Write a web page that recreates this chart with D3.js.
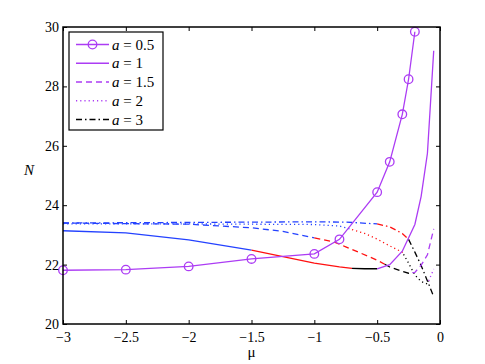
<!DOCTYPE html>
<html lang="en">
<head>
    <meta charset="UTF-8">
    <title>N vs mu</title>
    <script src="https://d3js.org/d3.v7.min.js"></script>
    <style>
        body { margin: 0; background: #fff; }
        text { font-family: "Liberation Serif", "Times New Roman", serif; }
    </style>
</head>
<body>
    <svg></svg>

    <script>
        // data
        const muA05 = [-3, -2.5, -2, -1.5, -1, -0.8, -0.5, -0.4, -0.3, -0.25, -0.2];
        const NA05  = [21.81, 21.83, 21.94, 22.19, 22.36, 22.85, 24.44, 25.46, 27.06, 28.24, 29.84];

        const muA1 = [-3, -2.5, -2, -1.5, -1, -0.8, -0.7, -0.6, -0.5, -0.4, -0.3, -0.2, -0.15, -0.1, -0.05];
        const NA1  = [23.14, 23.07, 22.83, 22.49, 22.05, 21.92, 21.87, 21.86, 21.86, 22.0, 22.45, 23.35, 24.3, 25.75, 29.2];

        const muA15 = [-3, -2.5, -2, -1.5, -1.25, -1, -0.85, -0.75, -0.5, -0.4, -0.3, -0.25, -0.2, -0.15, -0.1, -0.05];
        const NA15  = [23.40, 23.38, 23.36, 23.24, 23.12, 22.9, 22.77, 22.6, 22.15, 21.92, 21.77, 21.71, 21.74, 21.98, 22.33, 23.2];

        const muA2 = [-3, -2.5, -2, -1.5, -1, -0.8, -0.7, -0.6, -0.5, -0.4, -0.3, -0.25, -0.2, -0.15, -0.1, -0.05];
        const NA2  = [23.37, 23.37, 23.37, 23.36, 23.35, 23.3, 23.18, 23.05, 22.86, 22.63, 22.42, 22.05, 21.65, 21.43, 21.35, 21.85];

        const muA3 = [-3, -2.5, -2, -1.5, -1, -0.75, -0.5, -0.4, -0.3, -0.25, -0.2, -0.15, -0.1, -0.05];
        const NA3  = [23.40, 23.41, 23.42, 23.43, 23.44, 23.43, 23.37, 23.27, 23.05, 22.85, 22.42, 21.97, 21.45, 20.92];

        // where each curve changes colour (blue -> red -> black -> purple)
        const breaksA1  = [-1.5, -0.7, -0.5];
        const breaksA15 = [-1.0, -0.44, -0.22];
        const breaksA2  = [-0.7, -0.29, -0.09];
        const breaksA3  = [-0.5, -0.25];

        const xTicks = [-3, -2.5, -2, -1.5, -1, -0.5, 0];
        const yTicks = [20, 22, 24, 26, 28, 30];
        const legendLabels = ["0.5", "1", "1.5", "2", "3"];

        const width = 485, height = 364;
        const mLeft = 63, mRight = 440, mTop = 27, mBottom = 324;

        const purple = "#ac3cf4", blue = "#2442ff", red = "#ff1010", black = "#000";
        const regimeColors = [blue, red, black, purple];

        const x = d3.scaleLinear().domain([-3, 0]).range([mLeft, mRight]);
        const y = d3.scaleLinear().domain([20, 30]).range([mBottom, mTop]);

        const svg = d3.select("svg")
            .attr("width", width)
            .attr("height", height);

        const line = d3.line().x(d => x(d[0])).y(d => y(d[1]));

        // cut a polyline into pieces at the given mu values
        function splitAt(xs, ys, breaks) {
            const pts = xs.map((v, i) => [v, ys[i]]);
            const bounds = [-Infinity, ...breaks, Infinity];
            const interp = b => {
                for (let i = 0; i < pts.length - 1; i++) {
                    if (pts[i][0] <= b && pts[i + 1][0] >= b) {
                        const t = (b - pts[i][0]) / (pts[i + 1][0] - pts[i][0]);
                        return [b, pts[i][1] + t * (pts[i + 1][1] - pts[i][1])];
                    }
                }
                return null;
            };
            const out = [];
            for (let k = 0; k < bounds.length - 1; k++) {
                const lo = bounds[k], hi = bounds[k + 1];
                const seg = [];
                const a = interp(lo); if (a) seg.push(a);
                pts.forEach(p => { if (p[0] > lo && p[0] < hi) seg.push(p); });
                const b = interp(hi); if (b) seg.push(b);
                if (seg.length > 1) out.push({ pts: seg, color: regimeColors[k] });
            }
            return out;
        }

        const plot = svg.append("g");

        function drawSeries(xs, ys, breaks, dash) {
            plot.append("g")
                .selectAll("path")
                .data(splitAt(xs, ys, breaks))
                .join("path")
                .attr("d", d => line(d.pts))
                .attr("fill", "none")
                .attr("stroke", d => d.color)
                .attr("stroke-width", 1.3)
                .attr("stroke-dasharray", dash);
        }

        drawSeries(muA3, NA3, breaksA3, "6,3,1.5,3");
        drawSeries(muA2, NA2, breaksA2, "1.2,3");
        drawSeries(muA15, NA15, breaksA15, "6,4");
        drawSeries(muA1, NA1, breaksA1, null);

        // a = 0.5 : purple with circles
        const ptsA05 = muA05.map((v, i) => [v, NA05[i]]);
        plot.append("path")
            .attr("d", line(ptsA05))
            .attr("fill", "none")
            .attr("stroke", purple)
            .attr("stroke-width", 1.3);
        plot.selectAll("circle.m")
            .data(ptsA05)
            .join("circle")
            .attr("class", "m")
            .attr("cx", d => x(d[0]))
            .attr("cy", d => y(d[1]))
            .attr("r", 4.3)
            .attr("fill", "none")
            .attr("stroke", purple)
            .attr("stroke-width", 1.3);

        // axes box with inward ticks on all four sides
        const fmt = d => d < 0 ? "\u2212" + Math.abs(d) : String(d);
        svg.append("g").attr("transform", `translate(0,${mBottom})`)
            .call(d3.axisBottom(x).tickValues(xTicks).tickSizeInner(-4).tickSizeOuter(0).tickPadding(8).tickFormat(fmt));
        svg.append("g").attr("transform", `translate(0,${mTop})`)
            .call(d3.axisTop(x).tickValues(xTicks).tickSizeInner(-4).tickSizeOuter(0).tickFormat(""));
        svg.append("g").attr("transform", `translate(${mLeft},0)`)
            .call(d3.axisLeft(y).tickValues(yTicks).tickSizeInner(-4).tickSizeOuter(0).tickPadding(4).tickFormat(d3.format("d")));
        svg.append("g").attr("transform", `translate(${mRight},0)`)
            .call(d3.axisRight(y).tickValues(yTicks).tickSizeInner(-4).tickSizeOuter(0).tickFormat(""));

        svg.selectAll(".domain").remove();
        svg.selectAll(".tick line").attr("stroke", "#000").attr("stroke-width", 1);
        svg.selectAll(".tick text").attr("font-size", 14).attr("fill", "#000")
            .style("font-family", "'Liberation Serif', serif");

        svg.append("rect")
            .attr("x", mLeft).attr("y", mTop)
            .attr("width", mRight - mLeft).attr("height", mBottom - mTop)
            .attr("fill", "none").attr("stroke", "#000").attr("stroke-width", 1.5);

        // axis labels
        svg.append("text")
            .attr("x", (mLeft + mRight) / 2).attr("y", 357)
            .attr("text-anchor", "middle").attr("font-size", 15)
            .text("\u03bc");
        svg.append("text")
            .attr("x", 29).attr("y", 175)
            .attr("text-anchor", "middle").attr("font-size", 15)
            .attr("font-style", "italic")
            .text("N");

        // legend
        const leg = svg.append("g");
        leg.append("rect")
            .attr("x", 69).attr("y", 32).attr("width", 94).attr("height", 98)
            .attr("fill", "#fff").attr("stroke", "#000").attr("stroke-width", 1.2);

        const legStyles = [
            { color: purple, dash: null, marker: true },
            { color: purple, dash: null },
            { color: purple, dash: "6,4" },
            { color: purple, dash: "1.2,3" },
            { color: black, dash: "6,3,1.5,3" }
        ];
        const rowY = d3.scalePoint().domain(legendLabels).range([44.5, 119.5]);

        const rows = leg.selectAll("g.row")
            .data(legendLabels)
            .join("g")
            .attr("class", "row")
            .attr("transform", d => `translate(0,${rowY(d)})`);

        rows.append("line")
            .attr("x1", 76).attr("x2", 109)
            .attr("stroke", (d, i) => legStyles[i].color)
            .attr("stroke-width", 1.3)
            .attr("stroke-dasharray", (d, i) => legStyles[i].dash);
        rows.filter((d, i) => legStyles[i].marker)
            .append("circle")
            .attr("cx", 92.5).attr("r", 4.3)
            .attr("fill", "none").attr("stroke", purple).attr("stroke-width", 1.3);

        const lt = rows.append("text")
            .attr("x", 112).attr("y", 5)
            .attr("font-size", 15);
        lt.append("tspan").attr("font-style", "italic").text("a");
        lt.append("tspan").text(d => " = " + d);
    </script>
</body>
</html>
